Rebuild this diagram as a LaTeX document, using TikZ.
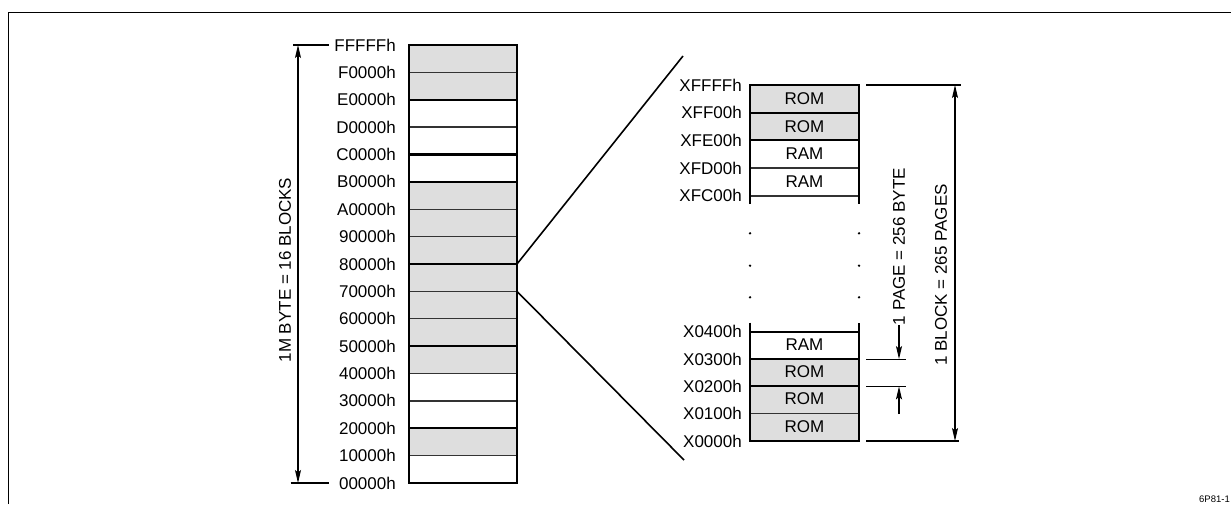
\documentclass[tikz,border=0pt]{standalone}
\usepackage{fontspec}
\setmainfont{Liberation Sans}
\usetikzlibrary{arrows.meta}
\tikzset{
  lbl/.style={font=\fontsize{17}{19}\selectfont, inner sep=0pt},
  cell/.style={font=\fontsize{17}{19}\selectfont, inner sep=0pt},
  shade/.style={fill=black!13},
  thinsep/.style={line width=1.4pt, black!80},
  thicksep/.style={line width=2.1pt},
  border/.style={line width=2.8pt},
  dimline/.style={line width=1.1pt},
  tip/.style={-{Stealth[length=13pt,width=6pt,inset=2.5pt]}},
  zoomline/.style={line width=1.6pt},
  dotmark/.style={circle, fill, inner sep=0pt, minimum size=2.6pt}
}
\begin{document}
\begin{tikzpicture}[x=1pt,y=-1pt]
\useasboundingbox (0,0) rectangle (1231,504);
% frame
\draw[line width=1.6pt] (8.3,504) -- (8.3,12.3) -- (1231,12.3);

% ---------- main column ----------
\def\Lx{409}\def\Rx{517}\def\Ty{45}\def\Dy{27.375}
\foreach \i in {0,1,5,6,7,8,9,10,11,14}{
  \fill[shade] (\Lx,{\Ty+\i*\Dy}) rectangle (\Rx,{\Ty+(\i+1)*\Dy});
}
\foreach \i in {1,3,6,7,9,10,12,13,15}{
  \draw[thinsep] (\Lx,{\Ty+\i*\Dy}) -- (\Rx,{\Ty+\i*\Dy});
}
\foreach \i in {2,4,5,8,11,14}{
  \draw[thicksep] (\Lx,{\Ty+\i*\Dy}) -- (\Rx,{\Ty+\i*\Dy});
}
\draw[border] (\Lx,\Ty) rectangle (\Rx,{\Ty+16*\Dy});
\foreach \t [count=\k from 0] in {FFFFFh,F0000h,E0000h,D0000h,C0000h,B0000h,A0000h,90000h,80000h,70000h,60000h,50000h,40000h,30000h,20000h,10000h,00000h}{
  \node[lbl, anchor=east] (m\k) at (396,{\Ty+\k*\Dy}) {\t};
}
\coordinate (m80) at (\Rx,{\Ty+8*\Dy});
\coordinate (m70) at (\Rx,{\Ty+9*\Dy});

% left dimension
\coordinate (lt1) at (293,45); \coordinate (lt2) at (329,45);
\coordinate (lb1) at (290.7,483); \coordinate (lb2) at (329,483);
\coordinate (la) at (298,264);
\draw[dimline] (lt1) -- (lt2);
\draw[dimline] (lb1) -- (lb2);
\draw[dimline,tip] (la) -- (298,45);
\draw[dimline,tip] (la) -- (298,483);
\node[lbl, rotate=90] (ldim) at (285,270) {1M BYTE = 16 BLOCKS};

% ---------- zoom lines ----------
\coordinate (zt) at (683,56);
\coordinate (zb) at (684,460);
\draw[zoomline] (m80) -- (zt);
\draw[zoomline] (m70) -- (zb);

% ---------- right column ----------
\def\RL{750}\def\RR{859}
% top part
\fill[shade] (\RL,85) rectangle (\RR,140.4);
\draw[thicksep] (\RL,112.7) -- (\RR,112.7);
\draw[thicksep] (\RL,140.4) -- (\RR,140.4);
\draw[thinsep] (\RL,168.1) -- (\RR,168.1);
\draw[thinsep] (\RL,195.8) -- (\RR,195.8);
\draw[border] (\RL,204) -- (\RL,85) -- (\RR,85) -- (\RR,204);
\node[cell] (c1) at (804.5,98.5) {ROM};
\node[cell] (c2) at (804.5,126.2) {ROM};
\node[cell] (c3) at (804.5,153.9) {RAM};
\node[cell] (c4) at (804.5,181.6) {RAM};
\foreach \t/\y [count=\k] in {XFFFFh/85,XFF00h/112.7,XFE00h/140.4,XFD00h/168.1,XFC00h/195.8}{
  \node[lbl, anchor=east] (t\k) at (742,\y) {\t};
}
% dots
\foreach \y [count=\k] in {233.3,265.7,297.3}{
  \node[dotmark] (dl\k) at (\RL,\y) {};
  \node[dotmark] (dr\k) at (\RR,\y) {};
}
% bottom part
\fill[shade] (\RL,359.1) rectangle (\RR,441);
\draw[thicksep] (\RL,331.8) -- (\RR,331.8);
\draw[thicksep] (\RL,359.1) -- (\RR,359.1);
\draw[thicksep] (\RL,386.4) -- (\RR,386.4);
\draw[thinsep] (\RL,413.7) -- (\RR,413.7);
\draw[border] (\RL,322.7) -- (\RL,441) -- (\RR,441) -- (\RR,322.7);
\node[cell] (c5) at (804.5,344.5) {RAM};
\node[cell] (c6) at (804.5,371.8) {ROM};
\node[cell] (c7) at (804.5,399.1) {ROM};
\node[cell] (c8) at (804.5,426.4) {ROM};
\foreach \t/\y [count=\k] in {X0400h/331.8,X0300h/359.1,X0200h/386.4,X0100h/413.7,X0000h/441}{
  \node[lbl, anchor=east] (b\k) at (742,\y) {\t};
}

% block dimension
\coordinate (bt1) at (866,85); \coordinate (bt2) at (961,85);
\coordinate (bb1) at (866,441); \coordinate (bb2) at (959,441);
\draw[dimline] (bt1) -- (bt2);
\draw[dimline] (bb1) -- (bb2);
\draw[dimline,tip] (955,263) -- (955,85);
\draw[dimline,tip] (955,263) -- (955,441);
\node[lbl, rotate=90] (bdim) at (941,275) {1 BLOCK = 265 PAGES};

% page dimension
\coordinate (p1a) at (866,359.1); \coordinate (p1b) at (906,359.1);
\coordinate (p2a) at (866,386.4); \coordinate (p2b) at (906,386.4);
\draw[dimline] (p1a) -- (p1b);
\draw[dimline] (p2a) -- (p2b);
\node[lbl, rotate=90] (pdim) at (899,246.5) {1 PAGE = 256 BYTE};
\draw[dimline,tip] (pdim.west) -- (899,359.1);
\draw[dimline,tip] (899,414) -- (899,386.4);

% figure id
\node[font=\fontsize{9.5}{10}\selectfont, anchor=base east, inner sep=0pt] (fid) at (1230,502) {6P81-1};
\end{tikzpicture}
\end{document}
